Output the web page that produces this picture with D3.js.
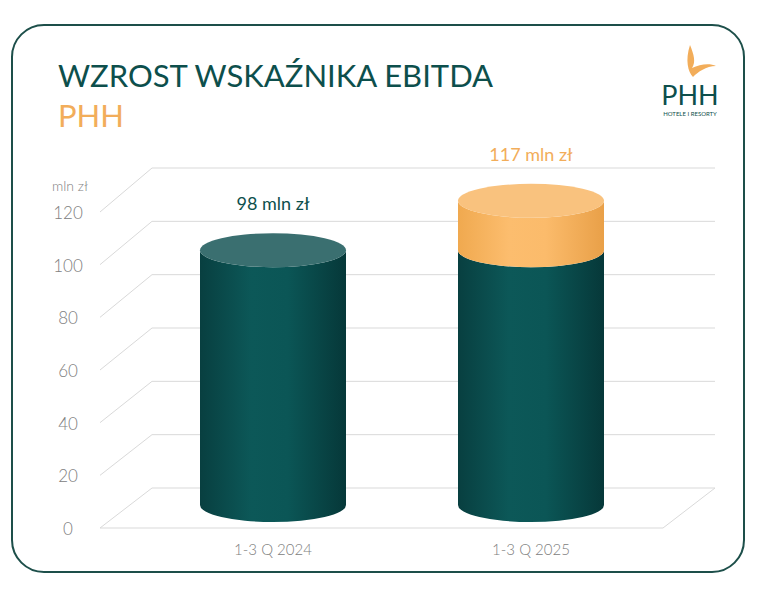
<!DOCTYPE html><html><head><meta charset="utf-8"><script src="https://cdn.jsdelivr.net/npm/d3@7"></script>
<style>body{margin:0;background:#fff}</style></head><body><script>
const categories=["1-3 Q 2024","1-3 Q 2025"];
const values=[98,117];
const labels=["98 mln zł","117 mln zł"];
const ticks=[0,20,40,60,80,100,120];
const W=768,H=596;
const svg=d3.select("body").append("svg").attr("width",W).attr("height",H).style("font-family","Lato");
const defs=svg.append("defs");
function grad(id,stops){const g=defs.append("linearGradient").attr("id",id).attr("x1","0").attr("x2","1").attr("y1","0").attr("y2","0");
stops.forEach(s=>g.append("stop").attr("offset",s[0]).attr("stop-color",s[1]));}
grad("teal",[[0,"#083f40"],[0.35,"#0c5858"],[0.6,"#0b5656"],[1,"#063839"]]);
grad("orange",[[0,"#f0a94f"],[0.35,"#fcbd6e"],[0.6,"#fbbb6b"],[1,"#e9a048"]]);
svg.append("rect").attr("x",12).attr("y",25).attr("width",732).attr("height",547).attr("rx",32).attr("fill","#fff").attr("stroke","#1d4f4a").attr("stroke-width",2);
svg.append("text").attr("x",58).attr("y",87).text("WZROST WSKAŹNIKA EBITDA").attr("font-size",31).attr("fill","#0d4f4c");
svg.append("text").attr("x",58).attr("y",127).text("PHH").attr("font-size",31).attr("fill","#f2ad5a");
svg.append("path").attr("d","M690,45 C694,55 696,62 692,68 C700,64 710,63 716,66 C706,66 698,72 693,77 C688,72 685,60 690,45Z").attr("fill","#f2ad5a");
svg.append("text").attr("x",690).attr("y",105).attr("text-anchor","middle").attr("font-size",27).attr("fill","#0d4f4c").text("PHH");
svg.append("text").attr("x",690).attr("y",116).attr("text-anchor","middle").attr("font-size",6).attr("fill","#0d4f4c").text("HOTELE I RESORTY");
const yBack=d3.scaleLinear().domain([0,120]).range([488,168]);
const yFront=d3.scaleLinear().domain([0,120]).range([528,212]);
const g=svg.append("g").attr("stroke","#d9d9d9").attr("fill","none");
ticks.forEach(t=>{g.append("polyline").attr("points",`100,${yFront(t)} 152,${yBack(t)} 715,${yBack(t)}`);});
g.append("line").attr("x1",715).attr("y1",yBack(0)).attr("x2",663).attr("y2",yFront(0));
g.append("line").attr("x1",100).attr("y1",yFront(0)).attr("x2",663).attr("y2",yFront(0));
svg.selectAll(".tk").data(ticks).enter().append("text").attr("x",68).attr("y",t=>yFront(t)+7).attr("text-anchor","middle").attr("font-size",17).attr("font-weight",300).attr("fill","#808080").text(d=>d);
svg.append("text").attr("x",70).attr("y",191).attr("text-anchor","middle").attr("font-size",14).attr("font-weight",300).attr("fill","#808080").text("mln zł");
const x=d3.scalePoint().domain(categories).range([273,531]);
const y=d3.scaleLinear().domain([0,120]).range([505,193]);
const rx=73,ry=17;
function cyl(cx,y0,y1,fill,topFill){
 svg.append("path").attr("d",`M${cx-rx},${y1} L${cx-rx},${y0} A${rx},${ry} 0 0 0 ${cx+rx},${y0} L${cx+rx},${y1} A${rx},${ry} 0 0 1 ${cx-rx},${y1}Z`).attr("fill",fill);
 if(topFill) svg.append("ellipse").attr("cx",cx).attr("cy",y1).attr("rx",rx).attr("ry",ry).attr("fill",topFill);
}
categories.forEach((c,i)=>{
 const cx=x(c);
 if(i===0){cyl(cx,y(0),y(values[0]),"url(#teal)","#3a6f70");}
 else{cyl(cx,y(0),y(values[0]),"url(#teal)",null);cyl(cx,y(values[0]),y(values[1]),"url(#orange)","#f9c27e");}
 svg.append("text").attr("x",cx).attr("y",y(values[i])-40).attr("text-anchor","middle").attr("font-size",18)
  .attr("fill",i===0?"#0d4f4c":"#f2ad5a").text(labels[i]);
 svg.append("text").attr("x",cx).attr("y",555).attr("text-anchor","middle").attr("font-size",15).attr("font-weight",300).attr("fill","#808080").text(c);
});
</script></body></html>
